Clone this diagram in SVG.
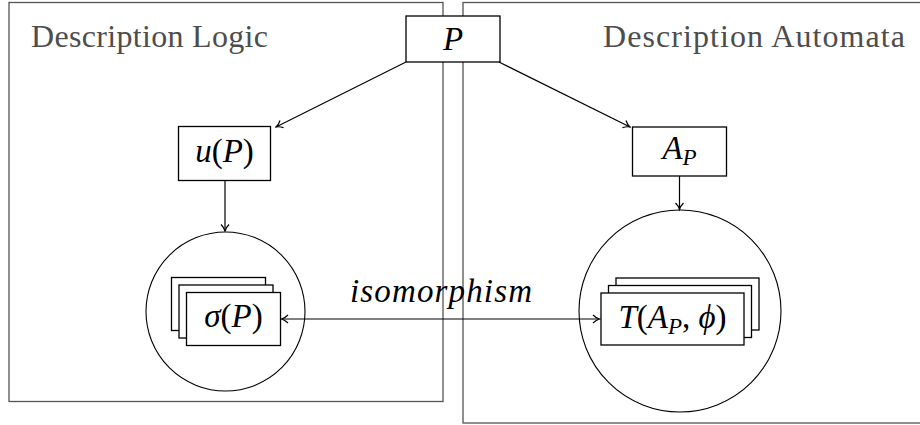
<svg xmlns="http://www.w3.org/2000/svg" width="920" height="425" viewBox="0 0 920 425">
<style>
.panel{fill:none;stroke:#555;stroke-width:1.3}
.lbl{font-family:"Liberation Serif","DejaVu Serif",serif;font-size:32px;fill:#4d4d4d}
.box{fill:#fff;stroke:#000;stroke-width:1.3}
.circ{fill:none;stroke:#000;stroke-width:1.1}
.m{font-family:"Liberation Serif","DejaVu Serif",serif;font-size:33px;fill:#000}
.i{font-style:italic}
.edge{fill:none;stroke:#000;stroke-width:1.2}
</style>
<defs>
<marker id="ah" viewBox="-8 -5 9 10" refX="0" refY="0" markerWidth="9" markerHeight="10" markerUnits="userSpaceOnUse" orient="auto-start-reverse">
<path d="M -6.5 -4 C -4 -1.5 -1.5 -0.4 0 0 C -1.5 0.4 -4 1.5 -6.5 4" fill="none" stroke="#000" stroke-width="1.2"/>
</marker>
</defs>
<rect width="920" height="425" fill="#fff"/>
<g id="panel-dl">
<rect class="panel" x="9" y="2.5" width="434" height="399"/>
<text class="lbl" x="31" y="47" textLength="237">Description Logic</text>
</g>
<g id="panel-da">
<rect class="panel" x="463" y="2.5" width="470" height="420.5"/>
<text class="lbl" x="603" y="47" textLength="302">Description Automata</text>
</g>
<g id="node-P">
<rect class="box" x="406" y="16" width="94" height="46"/>
<text class="m i" x="453" y="50" text-anchor="middle">P</text>
</g>
<g id="node-uP">
<rect class="box" x="178.5" y="126.5" width="92" height="54"/>
<text class="m" x="224.5" y="161.5" text-anchor="middle"><tspan class="i">u</tspan>(<tspan class="i">P</tspan>)</text>
</g>
<g id="node-AP">
<rect class="box" x="632.5" y="127" width="94" height="49"/>
<text class="m" x="679.5" y="159" text-anchor="middle"><tspan class="i">A</tspan><tspan class="i" font-size="23" dy="6">P</tspan></text>
</g>
<g id="node-sigma">
<circle class="circ" cx="225.5" cy="311.5" r="79.5"/>
<rect class="box" x="171.5" y="277.5" width="94" height="53"/>
<rect class="box" x="179" y="285" width="94" height="53"/>
<rect class="box" x="186.5" y="292.5" width="94" height="53"/>
<text class="m" x="233.5" y="327" text-anchor="middle"><tspan class="i">σ</tspan>(<tspan class="i">P</tspan>)</text>
</g>
<g id="node-T">
<circle class="circ" cx="680" cy="311" r="101"/>
<rect class="box" x="616" y="278" width="143" height="52"/>
<rect class="box" x="608.5" y="285.5" width="143" height="52"/>
<rect class="box" x="601" y="293" width="143" height="52"/>
<text class="m" x="672.5" y="327.5" text-anchor="middle"><tspan class="i">T</tspan>(<tspan class="i">A</tspan><tspan class="i" font-size="23" dy="6">P</tspan><tspan dy="-6">, </tspan><tspan class="i">ϕ</tspan>)</text>
</g>
<g id="connectors">
<line class="edge" x1="406" y1="62" x2="276" y2="127" marker-end="url(#ah)"/>
<line class="edge" x1="499" y1="62" x2="630" y2="127" marker-end="url(#ah)"/>
<line class="edge" x1="225" y1="180.5" x2="225" y2="231" marker-end="url(#ah)"/>
<line class="edge" x1="679.5" y1="176" x2="679.5" y2="209.5" marker-end="url(#ah)"/>
<line class="edge" x1="281.5" y1="319" x2="599.5" y2="319" marker-start="url(#ah)" marker-end="url(#ah)"/>
<text class="m i" x="350" y="302" textLength="182">isomorphism</text>
</g>
</svg>
